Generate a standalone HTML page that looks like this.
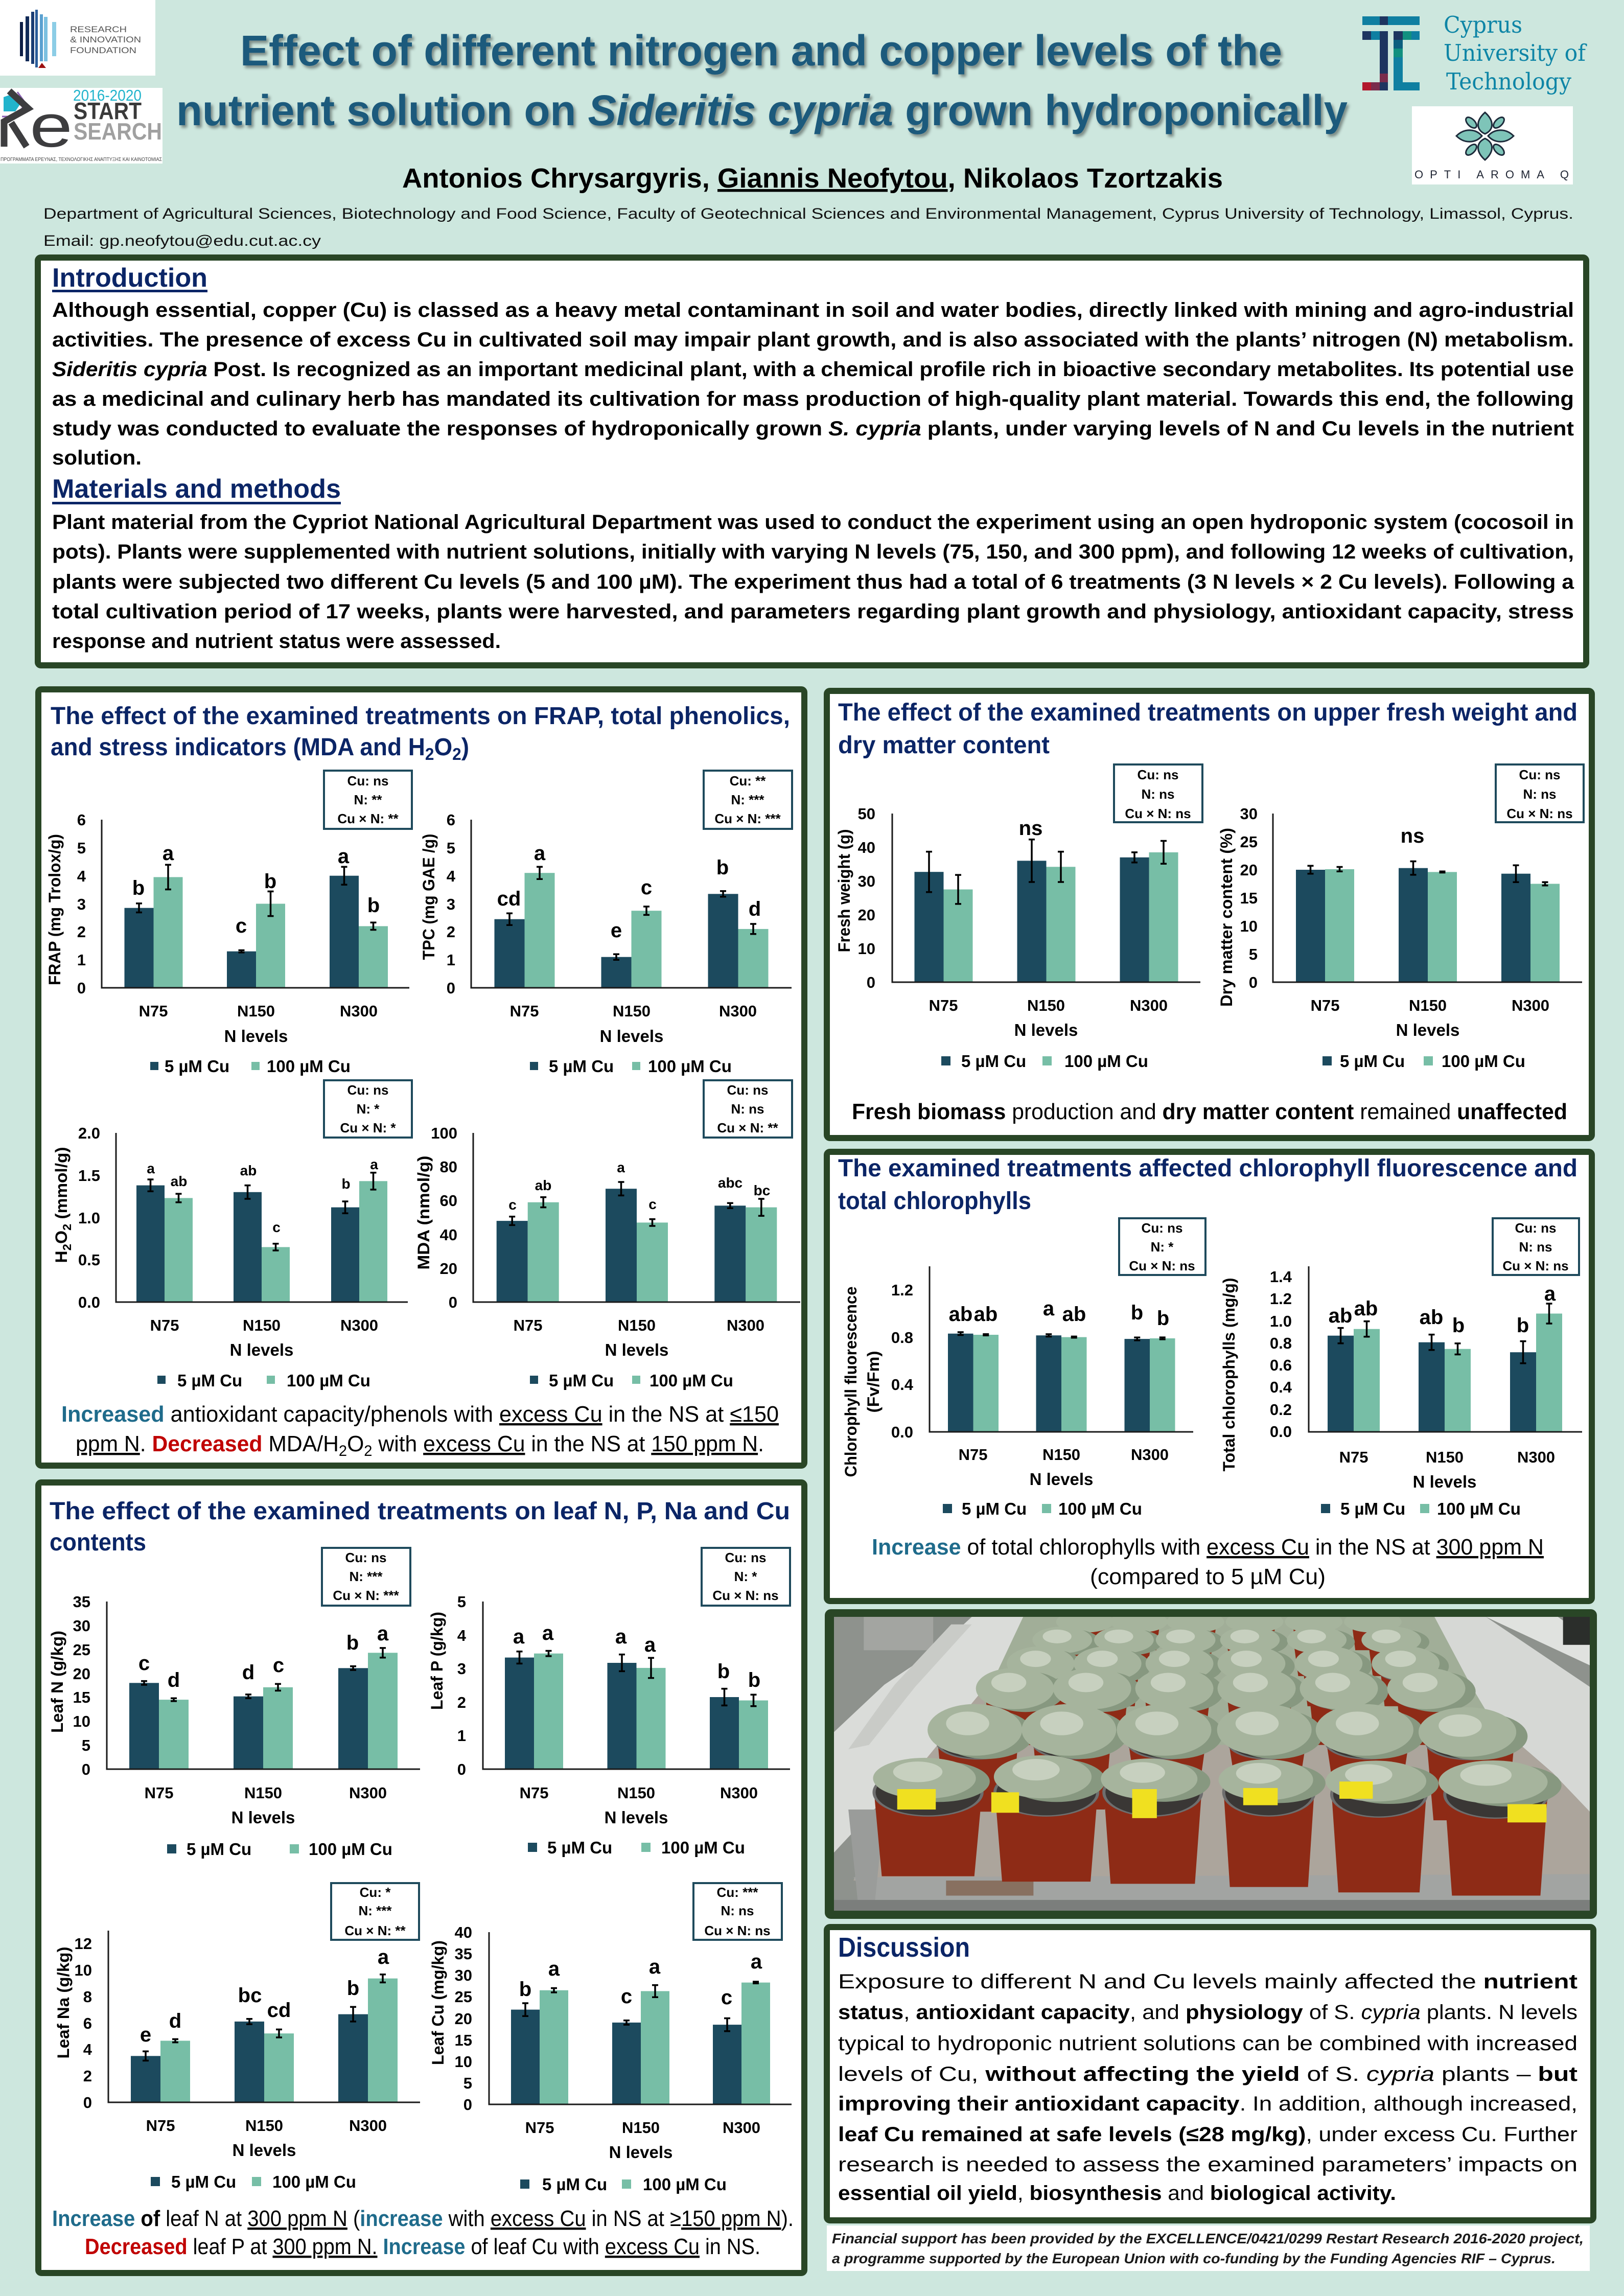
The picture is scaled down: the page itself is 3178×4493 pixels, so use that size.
<!DOCTYPE html>
<html><head><meta charset="utf-8"><title>Poster</title>
<style>html,body{margin:0;padding:0;background:#cde7de}svg{display:block}</style>
</head><body>
<svg xmlns="http://www.w3.org/2000/svg" width="3178" height="4493" viewBox="0 0 3178 4493" style="font-family:'Liberation Sans',Arial,sans-serif">
<defs>
<filter id="sh" x="-5%" y="-30%" width="110%" height="170%"><feDropShadow dx="4" dy="5" stdDeviation="3" flood-color="#000" flood-opacity="0.4"/></filter>
<style>
.b{font-weight:700}
.tk{font-weight:700;font-size:31px;text-anchor:end}
.cl{font-weight:700;font-size:31px;text-anchor:middle}
.nl{font-weight:700;font-size:33px;text-anchor:middle}
.lg{font-weight:700;font-size:33px}
.yt{font-weight:700;font-size:32px;text-anchor:middle}
.L{font-weight:700;font-size:40px;text-anchor:middle}
.S{font-weight:700;font-size:28px;text-anchor:middle}
.sb{font-weight:700;font-size:26px;text-anchor:middle}
.dk{fill:#1c4a5e}
.lt{fill:#77bea6}
.ax{stroke:#1a1a1a;stroke-width:3;fill:none}
.eb{stroke:#000;stroke-width:3.5;fill:none}
.bx{fill:#fff;stroke:#1e4a5c;stroke-width:4}
.pn{fill:#fff;stroke:#294626;stroke-width:12}
.pt{font-weight:700;font-size:48px;fill:#0b2566}
.bt{font-size:44px}
.tc{fill:#1f6b8b;font-weight:700}
.rd{fill:#c00000;font-weight:700}
.u{text-decoration:underline}
.pot{fill:#8e2b16}
.rim{fill:#3a3735;stroke:#6e6e6e;stroke-width:6}
.fo{fill:#a6b49d}
.fd{fill:#879880}
.fh{fill:#c7d0bf}
</style>
</defs>

<rect x="0" y="0" width="3178" height="4493" fill="#cde7de"/>

<!-- RIF logo -->
<rect x="0" y="0" width="304" height="148" fill="#fff"/>
<rect x="39" y="43" width="6" height="67" fill="#0d1e45"/>
<rect x="50" y="32" width="7" height="88" fill="#112a57"/>
<rect x="61" y="23" width="6" height="102" fill="#1a3d75"/>
<rect x="69" y="19" width="5" height="113" fill="#2a5c9a"/>
<rect x="78" y="28" width="6" height="92" fill="#5aa0d0"/>
<rect x="86" y="33" width="7" height="87" fill="#7cc0e0"/>
<rect x="102" y="43" width="8" height="67" fill="#8ccde6"/>
<polygon points="75,133 82,123 90,133" fill="#9c1010"/>
<text x="137" y="63" font-size="17" fill="#555" textLength="111" lengthAdjust="spacingAndGlyphs">RESEARCH</text>
<text x="137" y="83" font-size="17" fill="#555" textLength="139" lengthAdjust="spacingAndGlyphs">&amp; INNOVATION</text>
<text x="137" y="104" font-size="17" fill="#555" textLength="130" lengthAdjust="spacingAndGlyphs">FOUNDATION</text>

<!-- Restart logo -->
<rect x="0" y="172" width="318" height="148" fill="#fff"/>
<polygon points="7,190 30,182 42,200 30,218 7,218" fill="#22b4cc"/>
<path d="M34 180 L50 202 L32 228 L4 228" fill="none" stroke="#8b5fb5" stroke-width="3"/>
<path d="M18 178 L55 212 L8 238 L8 287" fill="none" stroke="#3d3d3f" stroke-width="13" stroke-linejoin="miter"/>
<path d="M22 240 L52 287" fill="none" stroke="#3d3d3f" stroke-width="13"/>
<text x="58" y="287" font-size="118" fill="#3d3d3f" textLength="84" lengthAdjust="spacingAndGlyphs">e</text>
<text x="143" y="197" font-size="31" fill="#22b4cc" textLength="134" lengthAdjust="spacingAndGlyphs">2016-2020</text>
<text x="144" y="233" font-size="46" class="b" fill="#3a3a3a" textLength="133" lengthAdjust="spacingAndGlyphs">START</text>
<text x="144" y="273" font-size="46" class="b" fill="#a0a0a0" textLength="173" lengthAdjust="spacingAndGlyphs">SEARCH</text>
<text x="1" y="315" font-size="10" fill="#444" textLength="316" lengthAdjust="spacingAndGlyphs">ΠΡΟΓΡΑΜΜΑΤΑ ΕΡΕΥΝΑΣ, ΤΕΧΝΟΛΟΓΙΚΗΣ ΑΝΑΠΤΥΞΗΣ ΚΑΙ ΚΑΙΝΟΤΟΜΙΑΣ</text>

<!-- CUT logo -->
<rect x="2666" y="32" width="34" height="17" fill="#0f7fa1"/>
<rect x="2700" y="32" width="16" height="17" fill="#1e3560"/>
<rect x="2716" y="32" width="62" height="17" fill="#0f7fa1"/>
<rect x="2666" y="61" width="17" height="17" fill="#1e3560"/>
<rect x="2683" y="61" width="17" height="17" fill="#0f7fa1"/>
<rect x="2700" y="61" width="16" height="116" fill="#1e3560"/>
<rect x="2700" y="144" width="16" height="17" fill="#7a2c4c"/>
<rect x="2666" y="161" width="17" height="16" fill="#b2172b"/>
<rect x="2683" y="161" width="17" height="16" fill="#7a2c4c"/>
<rect x="2727" y="61" width="18" height="17" fill="#1e3560"/>
<rect x="2745" y="61" width="17" height="17" fill="#11907f"/>
<rect x="2762" y="61" width="16" height="17" fill="#0f7fa1"/>
<rect x="2727" y="78" width="18" height="17" fill="#0c5f7f"/>
<rect x="2727" y="95" width="18" height="17" fill="#11907f"/>
<rect x="2727" y="112" width="18" height="65" fill="#0f7fa1"/>
<rect x="2727" y="161" width="51" height="16" fill="#0f7fa1"/>
<g font-family="'DejaVu Serif','Liberation Serif',serif" font-size="45" fill="#0e85a6">
<text x="2825" y="64" textLength="154" lengthAdjust="spacingAndGlyphs">Cyprus</text>
<text x="2825" y="119" textLength="278" lengthAdjust="spacingAndGlyphs">University of</text>
<text x="2830" y="175" textLength="245" lengthAdjust="spacingAndGlyphs">Technology</text>
</g>

<!-- OPTI AROMA Q -->
<rect x="2763" y="208" width="315" height="153" fill="#fff"/>
<g fill="#7ec4b8" stroke="#1d2a3a" stroke-width="3">
<path d="M2906 220 C2924 236 2924 254 2906 262 C2888 254 2888 236 2906 220Z"/>
<path d="M2906 313 C2924 297 2924 279 2906 271 C2888 279 2888 297 2906 313Z"/>
<path d="M2850 266 C2866 250 2888 252 2900 266 C2888 280 2866 282 2850 266Z"/>
<path d="M2962 266 C2946 250 2924 252 2912 266 C2924 280 2946 282 2962 266Z"/>
<ellipse cx="2879" cy="240" rx="7" ry="13" transform="rotate(-45 2879 240)"/>
<ellipse cx="2933" cy="240" rx="7" ry="13" transform="rotate(45 2933 240)"/>
<ellipse cx="2879" cy="293" rx="7" ry="13" transform="rotate(45 2879 293)"/>
<ellipse cx="2933" cy="293" rx="7" ry="13" transform="rotate(-45 2933 293)"/>
</g>
<text x="2768" y="349" font-size="22" fill="#1f2533" textLength="302" lengthAdjust="spacing">OPTI AROMA Q</text>

<!-- Title -->
<g filter="url(#sh)" fill="#1f5a7c" font-weight="700" font-size="84">
<text x="470" y="128" textLength="2039" lengthAdjust="spacingAndGlyphs">Effect of different nitrogen and copper levels of the</text>
<text x="345" y="245" textLength="2292" lengthAdjust="spacingAndGlyphs">nutrient solution on <tspan font-style="italic">Sideritis cypria</tspan> grown hydroponically</text>
</g>
<text x="787" y="367" class="b" font-size="54" fill="#000" textLength="1606" lengthAdjust="spacingAndGlyphs">Antonios Chrysargyris, <tspan class="u">Giannis Neofytou</tspan>, Nikolaos Tzortzakis</text>
<text x="85" y="428" font-size="30" fill="#111" textLength="2994" lengthAdjust="spacingAndGlyphs">Department of Agricultural Sciences, Biotechnology and Food Science, Faculty of Geotechnical Sciences and Environmental Management, Cyprus University of Technology, Limassol, Cyprus.</text>
<text x="85" y="481" font-size="30" fill="#111" textLength="543" lengthAdjust="spacingAndGlyphs">Email: gp.neofytou@edu.cut.ac.cy</text>

<!-- Intro box -->
<rect class="pn" x="74" y="504" width="3030" height="798" rx="6"/>
<text x="102" y="561" class="b" font-size="52" fill="#0b2566" textLength="304" lengthAdjust="spacingAndGlyphs">Introduction</text>
<rect x="102" y="567" width="304" height="5" fill="#0b2566"/>
<g class="b" font-size="40" fill="#000">
<text x="102" y="620" textLength="2978" lengthAdjust="spacingAndGlyphs">Although essential, copper (Cu) is classed as a heavy metal contaminant in soil and water bodies, directly linked with mining and agro-industrial</text>
<text x="102" y="678" textLength="2978" lengthAdjust="spacingAndGlyphs">activities. The presence of excess Cu in cultivated soil may impair plant growth, and is also associated with the plants’ nitrogen (N) metabolism.</text>
<text x="102" y="736" textLength="2978" lengthAdjust="spacingAndGlyphs"><tspan font-style="italic">Sideritis cypria</tspan> Post. Is recognized as an important medicinal plant, with a chemical profile rich in bioactive secondary metabolites. Its potential use</text>
<text x="102" y="794" textLength="2978" lengthAdjust="spacingAndGlyphs">as a medicinal and culinary herb has mandated its cultivation for mass production of high-quality plant material. Towards this end, the following</text>
<text x="102" y="852" textLength="2978" lengthAdjust="spacingAndGlyphs">study was conducted to evaluate the responses of hydroponically grown <tspan font-style="italic">S. cypria</tspan> plants, under varying levels of N and Cu levels in the nutrient</text>
<text x="102" y="909" textLength="175" lengthAdjust="spacingAndGlyphs">solution.</text>
</g>
<text x="102" y="974" class="b" font-size="52" fill="#0b2566" textLength="565" lengthAdjust="spacingAndGlyphs">Materials and methods</text>
<rect x="102" y="982" width="565" height="5" fill="#0b2566"/>
<g class="b" font-size="40" fill="#000">
<text x="102" y="1035" textLength="2978" lengthAdjust="spacingAndGlyphs">Plant material from the Cypriot National Agricultural Department was used to conduct the experiment using an open hydroponic system (cocosoil in</text>
<text x="102" y="1093" textLength="2978" lengthAdjust="spacingAndGlyphs">pots). Plants were supplemented with nutrient solutions, initially with varying N levels (75, 150, and 300 ppm), and following 12 weeks of cultivation,</text>
<text x="102" y="1152" textLength="2978" lengthAdjust="spacingAndGlyphs">plants were subjected two different Cu levels (5 and 100 µM). The experiment thus had a total of 6 treatments (3 N levels × 2 Cu levels). Following a</text>
<text x="102" y="1210" textLength="2978" lengthAdjust="spacingAndGlyphs">total cultivation period of 17 weeks, plants were harvested, and parameters regarding plant growth and physiology, antioxidant capacity, stress</text>
<text x="102" y="1268" textLength="878" lengthAdjust="spacingAndGlyphs">response and nutrient status were assessed.</text>
</g>

<!-- ================= PANEL FRAP ================= -->
<rect class="pn" x="75" y="1349" width="1499" height="1519" rx="6"/>
<text class="pt" x="99" y="1417" textLength="1447" lengthAdjust="spacingAndGlyphs">The effect of the examined treatments on FRAP, total phenolics,</text>
<text class="pt" x="99" y="1478" textLength="819" lengthAdjust="spacingAndGlyphs">and stress indicators (MDA and H<tspan dy="9" font-size="33">2</tspan><tspan dy="-9">O</tspan><tspan dy="9" font-size="33">2</tspan><tspan dy="-9">)</tspan></text>

<!-- Chart 1 FRAP -->
<rect class="dk" x="243.5" y="1776.7" width="57" height="156.3"/>
<rect class="dk" x="444" y="1861.7" width="57" height="71.3"/>
<rect class="dk" x="645" y="1713.7" width="57" height="219.3"/>
<rect class="lt" x="300.5" y="1716.4" width="57" height="216.6"/>
<rect class="lt" x="501" y="1768.5" width="57" height="164.5"/>
<rect class="lt" x="702" y="1812.4" width="57" height="120.6"/>
<path class="eb" d="M272 1767.9V1785.5M266 1767.9H278M266 1785.5H278M472.5 1859.5V1863.9M466.5 1859.5H478.5M466.5 1863.9H478.5M673.5 1696.2V1731.2M667.5 1696.2H679.5M667.5 1731.2H679.5M329 1692.3V1740.5M323 1692.3H335M323 1740.5H335M529.5 1744.4V1792.6M523.5 1744.4H535.5M523.5 1792.6H535.5M730.5 1805.3V1819.5M724.5 1805.3H736.5M724.5 1819.5H736.5"/>
<path class="ax" d="M199 1604V1933H801"/>
<g class="tk"><text x="168" y="1944">0</text><text x="168" y="1889">1</text><text x="168" y="1834">2</text><text x="168" y="1780">3</text><text x="168" y="1725">4</text><text x="168" y="1670">5</text><text x="168" y="1615">6</text></g>
<g class="L"><text x="271" y="1751">b</text><text x="329" y="1683">a</text><text x="472" y="1825">c</text><text x="529" y="1738">b</text><text x="672" y="1689">a</text><text x="731" y="1785">b</text></g>
<text class="yt" x="107" y="1791" transform="rotate(-90 107 1780)" textLength="296" lengthAdjust="spacingAndGlyphs">FRAP (mg Trolox/g)</text>
<g class="cl"><text x="300" y="1989">N75</text><text x="501" y="1989">N150</text><text x="702" y="1989">N300</text></g>
<text class="nl" x="501" y="2039">N levels</text>
<rect class="dk" x="294" y="2078" width="16" height="16"/><text class="lg" x="322" y="2098">5 µM Cu</text>
<rect class="lt" x="492" y="2078" width="16" height="16"/><text class="lg" x="522" y="2098">100 µM Cu</text>
<rect class="bx" x="634" y="1508" width="172" height="114"/>
<g class="sb"><text x="720" y="1537">Cu: ns</text><text x="720" y="1574">N: **</text><text x="720" y="1611">Cu × N: **</text></g>

<!-- Chart 2 TPC -->
<rect class="dk" x="967.5" y="1798.7" width="59" height="134.3"/>
<rect class="dk" x="1176.5" y="1872.7" width="59" height="60.3"/>
<rect class="dk" x="1385.5" y="1749.3" width="59" height="183.7"/>
<rect class="lt" x="1026.5" y="1708.2" width="59" height="224.8"/>
<rect class="lt" x="1235.5" y="1782.2" width="59" height="150.8"/>
<rect class="lt" x="1444.5" y="1817.9" width="59" height="115.1"/>
<path class="eb" d="M997 1787.2V1810.2M991 1787.2H1003M991 1810.2H1003M1206 1867.2V1878.2M1200 1867.2H1212M1200 1878.2H1212M1415 1743.8V1754.8M1409 1743.8H1421M1409 1754.8H1421M1056 1696.2V1720.2M1050 1696.2H1062M1050 1720.2H1062M1265 1774V1790.4M1259 1774H1271M1259 1790.4H1271M1474 1808V1827.8M1468 1808H1480M1468 1827.8H1480"/>
<path class="ax" d="M922 1604V1933H1549"/>
<g class="tk"><text x="891" y="1944">0</text><text x="891" y="1889">1</text><text x="891" y="1834">2</text><text x="891" y="1780">3</text><text x="891" y="1725">4</text><text x="891" y="1670">5</text><text x="891" y="1615">6</text></g>
<g class="L"><text x="996" y="1772">cd</text><text x="1056" y="1683">a</text><text x="1206" y="1834">e</text><text x="1265" y="1750">c</text><text x="1414" y="1711">b</text><text x="1477" y="1792">d</text></g>
<text class="yt" x="839" y="1766" transform="rotate(-90 839 1755)" textLength="247" lengthAdjust="spacingAndGlyphs">TPC (mg GAE /g)</text>
<g class="cl"><text x="1026" y="1989">N75</text><text x="1236" y="1989">N150</text><text x="1444" y="1989">N300</text></g>
<text class="nl" x="1236" y="2039">N levels</text>
<rect class="dk" x="1037" y="2078" width="16" height="16"/><text class="lg" x="1074" y="2098">5 µM Cu</text>
<rect class="lt" x="1237" y="2078" width="16" height="16"/><text class="lg" x="1268" y="2098">100 µM Cu</text>
<rect class="bx" x="1377" y="1508" width="173" height="114"/>
<g class="sb"><text x="1463" y="1537">Cu: **</text><text x="1463" y="1574">N: ***</text><text x="1463" y="1611">Cu × N: ***</text></g>

<!-- Chart 3 H2O2 -->
<rect class="dk" x="267" y="2319.6" width="55" height="228.4"/>
<rect class="dk" x="457" y="2332.8" width="55" height="215.2"/>
<rect class="dk" x="648" y="2362.6" width="55" height="185.4"/>
<rect class="lt" x="322" y="2344.4" width="55" height="203.6"/>
<rect class="lt" x="512" y="2440.4" width="55" height="107.6"/>
<rect class="lt" x="703" y="2311.3" width="55" height="236.7"/>
<path class="eb" d="M294.5 2308V2331.2M288.5 2308H300.5M288.5 2331.2H300.5M484.5 2319.6V2346M478.5 2319.6H490.5M478.5 2346H490.5M675.5 2351V2374.2M669.5 2351H681.5M669.5 2374.2H681.5M349.5 2336.1V2352.7M343.5 2336.1H355.5M343.5 2352.7H355.5M539.5 2433.8V2447M533.5 2433.8H545.5M533.5 2447H545.5M730.5 2294.7V2327.9M724.5 2294.7H736.5M724.5 2327.9H736.5"/>
<path class="ax" d="M227 2217V2548H798"/>
<g class="tk"><text x="196" y="2559">0.0</text><text x="196" y="2476">0.5</text><text x="196" y="2394">1.0</text><text x="196" y="2311">1.5</text><text x="196" y="2228">2.0</text></g>
<g class="S"><text x="295" y="2296">a</text><text x="350" y="2321">ab</text><text x="486" y="2300">ab</text><text x="541" y="2411">c</text><text x="677" y="2326">b</text><text x="732" y="2288">a</text></g>
<text class="yt" x="120" y="2369" transform="rotate(-90 120 2358)" textLength="227" lengthAdjust="spacingAndGlyphs">H<tspan dy="8" font-size="23">2</tspan><tspan dy="-8">O</tspan><tspan dy="8" font-size="23">2</tspan><tspan dy="-8"> (mmol/g)</tspan></text>
<g class="cl"><text x="322" y="2604">N75</text><text x="512" y="2604">N150</text><text x="703" y="2604">N300</text></g>
<text class="nl" x="512" y="2653">N levels</text>
<rect class="dk" x="308" y="2692" width="16" height="16"/><text class="lg" x="347" y="2713">5 µM Cu</text>
<rect class="lt" x="522" y="2692" width="16" height="16"/><text class="lg" x="561" y="2713">100 µM Cu</text>
<rect class="bx" x="634" y="2114" width="172" height="112"/>
<g class="sb"><text x="720" y="2142">Cu: ns</text><text x="720" y="2179">N: *</text><text x="720" y="2216">Cu × N: *</text></g>

<!-- Chart 4 MDA -->
<rect class="dk" x="971.7" y="2389.1" width="61" height="158.9"/>
<rect class="dk" x="1185" y="2326.2" width="61" height="221.8"/>
<rect class="dk" x="1398.3" y="2359.3" width="61" height="188.7"/>
<rect class="lt" x="1032.7" y="2352.7" width="61" height="195.3"/>
<rect class="lt" x="1246" y="2392.4" width="61" height="155.6"/>
<rect class="lt" x="1459.3" y="2362.6" width="61" height="185.4"/>
<path class="eb" d="M1002.2 2380.8V2397.4M996.2 2380.8H1008.2M996.2 2397.4H1008.2M1215.5 2313V2339.4M1209.5 2313H1221.5M1209.5 2339.4H1221.5M1428.8 2354.3V2364.3M1422.8 2354.3H1434.8M1422.8 2364.3H1434.8M1063.2 2342.8V2362.6M1057.2 2342.8H1069.2M1057.2 2362.6H1069.2M1276.5 2385.8V2399M1270.5 2385.8H1282.5M1270.5 2399H1282.5M1489.8 2346V2379.2M1483.8 2346H1495.8M1483.8 2379.2H1495.8"/>
<path class="ax" d="M926 2217V2548H1566"/>
<g class="tk"><text x="895" y="2559">0</text><text x="895" y="2493">20</text><text x="895" y="2427">40</text><text x="895" y="2360">60</text><text x="895" y="2294">80</text><text x="895" y="2228">100</text></g>
<g class="S"><text x="1003" y="2367">c</text><text x="1063" y="2329">ab</text><text x="1215" y="2294">a</text><text x="1277" y="2366">c</text><text x="1429" y="2324">abc</text><text x="1491" y="2339">bc</text></g>
<text class="yt" x="829" y="2384" transform="rotate(-90 829 2373)" textLength="223" lengthAdjust="spacingAndGlyphs">MDA (nmol/g)</text>
<g class="cl"><text x="1033" y="2604">N75</text><text x="1246" y="2604">N150</text><text x="1459" y="2604">N300</text></g>
<text class="nl" x="1246" y="2653">N levels</text>
<rect class="dk" x="1037" y="2692" width="16" height="16"/><text class="lg" x="1074" y="2713">5 µM Cu</text>
<rect class="lt" x="1237" y="2692" width="16" height="16"/><text class="lg" x="1271" y="2713">100 µM Cu</text>
<rect class="bx" x="1377" y="2114" width="173" height="112"/>
<g class="sb"><text x="1463" y="2142">Cu: ns</text><text x="1463" y="2179">N: ns</text><text x="1463" y="2216">Cu × N: **</text></g>

<text class="bt" x="120" y="2782" textLength="1404" lengthAdjust="spacingAndGlyphs"><tspan class="tc">Increased</tspan> antioxidant capacity/phenols with <tspan class="u">excess Cu</tspan> in the NS at <tspan class="u">≤150</tspan></text>
<text class="bt" x="148" y="2840" textLength="1347" lengthAdjust="spacingAndGlyphs"><tspan class="u">ppm N</tspan>. <tspan class="rd">Decreased</tspan> MDA/H<tspan dy="9" font-size="30">2</tspan><tspan dy="-9">O</tspan><tspan dy="9" font-size="30">2</tspan><tspan dy="-9"> with </tspan><tspan class="u">excess Cu</tspan> in the NS at <tspan class="u">150 ppm N</tspan>.</text>

<!-- ================= PANEL FRESH ================= -->
<rect class="pn" x="1618" y="1352" width="1497" height="875" rx="6"/>
<text class="pt" x="1640" y="1410" textLength="1447" lengthAdjust="spacingAndGlyphs">The effect of the examined treatments on upper fresh weight and</text>
<text class="pt" x="1640" y="1474" textLength="414" lengthAdjust="spacingAndGlyphs">dry matter content</text>

<!-- Chart 5 Fresh -->
<rect class="dk" x="1789.5" y="1706.2" width="57" height="215.8"/>
<rect class="dk" x="1990.5" y="1684.4" width="57" height="237.6"/>
<rect class="dk" x="2191.5" y="1677.8" width="57" height="244.2"/>
<rect class="lt" x="1846.5" y="1740.5" width="57" height="181.5"/>
<rect class="lt" x="2047.5" y="1696.3" width="57" height="225.7"/>
<rect class="lt" x="2248.5" y="1667.9" width="57" height="254.1"/>
<path class="eb" d="M1818 1666.6V1745.8M1812 1666.6H1824M1812 1745.8H1824M2019 1642.8V1726M2013 1642.8H2025M2013 1726H2025M2220 1667.9V1687.7M2214 1667.9H2226M2214 1687.7H2226M1875 1712.1V1768.9M1869 1712.1H1881M1869 1768.9H1881M2076 1666.6V1726M2070 1666.6H2082M2070 1726H2082M2277 1645.5V1690.3M2271 1645.5H2283M2271 1690.3H2283"/>
<path class="ax" d="M1746 1592V1922H2349"/>
<g class="tk"><text x="1713" y="1933">0</text><text x="1713" y="1867">10</text><text x="1713" y="1801">20</text><text x="1713" y="1735">30</text><text x="1713" y="1669">40</text><text x="1713" y="1603">50</text></g>
<text class="L" x="2017" y="1634">ns</text>
<text class="yt" x="1652" y="1754" transform="rotate(-90 1652 1743)" textLength="241" lengthAdjust="spacingAndGlyphs">Fresh weight (g)</text>
<g class="cl"><text x="1846" y="1978">N75</text><text x="2047" y="1978">N150</text><text x="2248" y="1978">N300</text></g>
<text class="nl" x="2047" y="2027">N levels</text>
<rect class="dk" x="1842" y="2067" width="18" height="18"/><text class="lg" x="1881" y="2088">5 µM Cu</text>
<rect class="lt" x="2040" y="2067" width="18" height="18"/><text class="lg" x="2083" y="2088">100 µM Cu</text>
<rect class="bx" x="2180" y="1496" width="173" height="113"/>
<g class="sb"><text x="2266" y="1525">Cu: ns</text><text x="2266" y="1563">N: ns</text><text x="2266" y="1601">Cu × N: ns</text></g>

<!-- Chart 6 Dry -->
<rect class="dk" x="2536" y="1702" width="57" height="220"/>
<rect class="dk" x="2737" y="1698.7" width="57" height="223.3"/>
<rect class="dk" x="2938" y="1709.7" width="57" height="212.3"/>
<rect class="lt" x="2593" y="1700.9" width="57" height="221.1"/>
<rect class="lt" x="2794" y="1706.4" width="57" height="215.6"/>
<rect class="lt" x="2995" y="1729.5" width="57" height="192.5"/>
<path class="eb" d="M2564.5 1694.3V1709.7M2558.5 1694.3H2570.5M2558.5 1709.7H2570.5M2765.5 1685.5V1711.9M2759.5 1685.5H2771.5M2759.5 1711.9H2771.5M2966.5 1693.2V1726.2M2960.5 1693.2H2972.5M2960.5 1726.2H2972.5M2621.5 1696.5V1705.3M2615.5 1696.5H2627.5M2615.5 1705.3H2627.5M2822.5 1705.3V1707.5M2816.5 1705.3H2828.5M2816.5 1707.5H2828.5M3023.5 1726.2V1732.8M3017.5 1726.2H3029.5M3017.5 1732.8H3029.5"/>
<path class="ax" d="M2491 1592V1922H3096"/>
<g class="tk"><text x="2461" y="1933">0</text><text x="2461" y="1878">5</text><text x="2461" y="1823">10</text><text x="2461" y="1768">15</text><text x="2461" y="1713">20</text><text x="2461" y="1658">25</text><text x="2461" y="1603">30</text></g>
<text class="L" x="2764" y="1649">ns</text>
<text class="yt" x="2400" y="1806" transform="rotate(-90 2400 1795)" textLength="350" lengthAdjust="spacingAndGlyphs">Dry matter content (%)</text>
<g class="cl"><text x="2593" y="1978">N75</text><text x="2794" y="1978">N150</text><text x="2995" y="1978">N300</text></g>
<text class="nl" x="2794" y="2027">N levels</text>
<rect class="dk" x="2588" y="2067" width="18" height="18"/><text class="lg" x="2622" y="2088">5 µM Cu</text>
<rect class="lt" x="2786" y="2067" width="18" height="18"/><text class="lg" x="2821" y="2088">100 µM Cu</text>
<rect class="bx" x="2927" y="1496" width="172" height="113"/>
<g class="sb"><text x="3013" y="1525">Cu: ns</text><text x="3013" y="1563">N: ns</text><text x="3013" y="1601">Cu × N: ns</text></g>

<text class="bt" x="1667" y="2190" textLength="1400" lengthAdjust="spacingAndGlyphs"><tspan class="b">Fresh biomass</tspan> production and <tspan class="b">dry matter content</tspan> remained <tspan class="b">unaffected</tspan></text>

<!-- ================= PANEL CHL ================= -->
<rect class="pn" x="1618" y="2254" width="1497" height="879" rx="6"/>
<text class="pt" x="1640" y="2302" textLength="1447" lengthAdjust="spacingAndGlyphs">The examined treatments affected chlorophyll fluorescence and</text>
<text class="pt" x="1640" y="2366" textLength="378" lengthAdjust="spacingAndGlyphs">total chlorophylls</text>

<!-- Chart 7 ChlF -->
<rect class="dk" x="1855" y="2609.7" width="49.5" height="192.3"/>
<rect class="dk" x="2027.5" y="2613.2" width="49.5" height="188.8"/>
<rect class="dk" x="2200.5" y="2620.1" width="49.5" height="181.9"/>
<rect class="lt" x="1904.5" y="2612" width="49.5" height="190"/>
<rect class="lt" x="2077" y="2616.6" width="49.5" height="185.4"/>
<rect class="lt" x="2250" y="2619" width="49.5" height="183"/>
<path class="eb" d="M1879.75 2606.9V2612.5M1873.75 2606.9H1885.75M1873.75 2612.5H1885.75M2052.25 2610.9V2615.5M2046.25 2610.9H2058.25M2046.25 2615.5H2058.25M2225.25 2617.3V2622.9M2219.25 2617.3H2231.25M2219.25 2622.9H2231.25M1929.25 2610.8V2613.2M1923.25 2610.8H1935.25M1923.25 2613.2H1935.25M2101.75 2615.4V2617.8M2095.75 2615.4H2107.75M2095.75 2617.8H2107.75M2274.75 2617.1V2620.9M2268.75 2617.1H2280.75M2268.75 2620.9H2280.75"/>
<path class="ax" d="M1819 2478V2802H2335"/>
<g class="tk"><text x="1787" y="2813">0.0</text><text x="1787" y="2720">0.4</text><text x="1787" y="2628">0.8</text><text x="1787" y="2535">1.2</text></g>
<g class="L" font-size="38"><text x="1880" y="2585">ab</text><text x="1929" y="2585">ab</text><text x="2052" y="2574">a</text><text x="2102" y="2585">ab</text><text x="2225" y="2582">b</text><text x="2276" y="2593">b</text></g>
<text class="yt" x="1665" y="2715" transform="rotate(-90 1665 2704)" textLength="373" lengthAdjust="spacingAndGlyphs">Chlorophyll fluorescence</text>
<text class="yt" x="1709" y="2715" transform="rotate(-90 1709 2704)" textLength="121" lengthAdjust="spacingAndGlyphs">(Fv/Fm)</text>
<g class="cl"><text x="1904" y="2857">N75</text><text x="2077" y="2857">N150</text><text x="2250" y="2857">N300</text></g>
<text class="nl" x="2077" y="2906">N levels</text>
<rect class="dk" x="1845" y="2943" width="18" height="18"/><text class="lg" x="1882" y="2964">5 µM Cu</text>
<rect class="lt" x="2039" y="2943" width="18" height="18"/><text class="lg" x="2071" y="2964">100 µM Cu</text>
<rect class="bx" x="2190" y="2384" width="169" height="111"/>
<g class="sb"><text x="2274" y="2412">Cu: ns</text><text x="2274" y="2449">N: *</text><text x="2274" y="2486">Cu × N: ns</text></g>

<!-- Chart 8 TChl -->
<rect class="dk" x="2598" y="2613.7" width="51" height="188.3"/>
<rect class="dk" x="2776" y="2626.7" width="51" height="175.3"/>
<rect class="dk" x="2955" y="2646.2" width="51" height="155.8"/>
<rect class="lt" x="2649" y="2600.7" width="51" height="201.3"/>
<rect class="lt" x="2827" y="2639.7" width="51" height="162.3"/>
<rect class="lt" x="3006" y="2570.5" width="51" height="231.5"/>
<path class="eb" d="M2623.5 2598.6V2628.8M2617.5 2598.6H2629.5M2617.5 2628.8H2629.5M2801.5 2611.6V2641.8M2795.5 2611.6H2807.5M2795.5 2641.8H2807.5M2980.5 2624.6V2667.8M2974.5 2624.6H2986.5M2974.5 2667.8H2986.5M2674.5 2585.6V2615.8M2668.5 2585.6H2680.5M2668.5 2615.8H2680.5M2852.5 2628.9V2650.5M2846.5 2628.9H2858.5M2846.5 2650.5H2858.5M3031.5 2551V2590M3025.5 2551H3037.5M3025.5 2590H3037.5"/>
<path class="ax" d="M2561 2478V2802H3096"/>
<g class="tk" font-size="29"><text x="2528" y="2812">0.0</text><text x="2528" y="2769">0.2</text><text x="2528" y="2725">0.4</text><text x="2528" y="2682">0.6</text><text x="2528" y="2639">0.8</text><text x="2528" y="2596">1.0</text><text x="2528" y="2552">1.2</text><text x="2528" y="2509">1.4</text></g>
<g class="L" font-size="38"><text x="2623" y="2588">ab</text><text x="2673" y="2574">ab</text><text x="2801" y="2591">ab</text><text x="2854" y="2607">b</text><text x="2980" y="2607">b</text><text x="3033" y="2545">a</text></g>
<text class="yt" x="2405" y="2701" transform="rotate(-90 2405 2690)" textLength="379" lengthAdjust="spacingAndGlyphs">Total chlorophylls (mg/g)</text>
<g class="cl"><text x="2649" y="2862">N75</text><text x="2827" y="2862">N150</text><text x="3006" y="2862">N300</text></g>
<text class="nl" x="2827" y="2911">N levels</text>
<rect class="dk" x="2585" y="2943" width="18" height="18"/><text class="lg" x="2623" y="2964">5 µM Cu</text>
<rect class="lt" x="2779" y="2943" width="18" height="18"/><text class="lg" x="2812" y="2964">100 µM Cu</text>
<rect class="bx" x="2921" y="2384" width="169" height="111"/>
<g class="sb"><text x="3005" y="2412">Cu: ns</text><text x="3005" y="2449">N: ns</text><text x="3005" y="2486">Cu × N: ns</text></g>

<text class="bt" x="1706" y="3042" textLength="1315" lengthAdjust="spacingAndGlyphs"><tspan class="tc">Increase</tspan> of total chlorophylls with <tspan class="u">excess Cu</tspan> in the NS at <tspan class="u">300 ppm N</tspan></text>
<text class="bt" x="2133" y="3100" textLength="461" lengthAdjust="spacingAndGlyphs">(compared to 5 µM  Cu)</text>

<!-- ================= PHOTO ================= -->
<rect x="1614" y="3149" width="1511" height="606" rx="12" fill="#294626"/>
<svg x="1632" y="3164" width="1479" height="575" viewBox="32 105 1470 1365" preserveAspectRatio="none">
<rect x="32" y="105" width="1470" height="1365" fill="#8e928d"/>
<rect x="90" y="105" width="135" height="155" fill="#a3a5a1"/>
<polygon points="230,260 300,105 440,105 330,420 220,760 110,1000 32,1200 32,640 130,420" fill="#dadcd9"/>
<polygon points="150,420 260,140 300,140 190,430 100,700 60,720" fill="#c9cbc7"/>
<polygon points="1180,105 1300,105 1502,430 1502,1010 1430,830 1290,540" fill="#d6d8d5"/>
<polygon points="1300,105 1440,105 1502,210 1502,330" fill="#e0e2df"/>
<rect x="1450" y="105" width="52" height="130" fill="#2b2e2b"/>
<polygon points="130,1000 330,420 440,105 1180,105 1290,540 1430,830 1502,1010 1502,1330 70,1330" fill="#aca59c"/>
<!-- dense back foliage -->
<polygon points="400,105 1200,105 1270,420 1320,620 1250,700 300,700 330,460" fill="#a1ae98"/>
<polygon points="70,1315 1502,1300 1502,1440 95,1420" fill="#a2a4a2"/>
<polygon points="60,1000 130,1000 112,1420 78,1420" fill="#9a9c9a"/>
<rect x="250" y="1330" width="170" height="70" fill="#7d5a44" opacity="0.7"/>
<rect x="32" y="1420" width="1470" height="50" fill="#7b7e7c"/>
<!-- row A -->
<g>
<polygon class="pot" points="480,150 560,150 554,260 486,260"/><ellipse class="fo" cx="520" cy="128" rx="56" ry="50"/>
<polygon class="pot" points="585,150 665,150 659,260 591,260"/><ellipse class="fo" cx="625" cy="128" rx="56" ry="50"/>
<polygon class="pot" points="695,150 775,150 769,260 701,260"/><ellipse class="fo" cx="735" cy="128" rx="56" ry="50"/>
<polygon class="pot" points="810,150 890,150 884,260 816,260"/><ellipse class="fo" cx="850" cy="128" rx="56" ry="50"/>
<polygon class="pot" points="925,150 1005,150 999,260 931,260"/><ellipse class="fo" cx="965" cy="128" rx="56" ry="50"/>
<polygon class="pot" points="1040,150 1120,150 1114,260 1046,260"/><ellipse class="fo" cx="1080" cy="128" rx="56" ry="50"/>
</g>
<!-- row B -->
<g>
<polygon class="pot" points="432,240 528,240 520,380 440,380"/><ellipse class="fd" cx="492" cy="222" rx="58" ry="60"/><ellipse class="fo" cx="476" cy="212" rx="58" ry="62"/><ellipse class="fh" cx="466" cy="196" rx="28" ry="32"/>
<polygon class="pot" points="552,240 648,240 640,380 560,380"/><ellipse class="fd" cx="612" cy="222" rx="58" ry="60"/><ellipse class="fo" cx="596" cy="212" rx="58" ry="62"/><ellipse class="fh" cx="586" cy="196" rx="28" ry="32"/>
<polygon class="pot" points="672,240 768,240 760,380 680,380"/><ellipse class="fd" cx="732" cy="222" rx="58" ry="60"/><ellipse class="fo" cx="716" cy="212" rx="58" ry="62"/><ellipse class="fh" cx="706" cy="196" rx="28" ry="32"/>
<polygon class="pot" points="797,240 893,240 885,380 805,380"/><ellipse class="fd" cx="857" cy="222" rx="58" ry="60"/><ellipse class="fo" cx="841" cy="212" rx="58" ry="62"/><ellipse class="fh" cx="831" cy="196" rx="28" ry="32"/>
<polygon class="pot" points="927,240 1023,240 1015,380 935,380"/><ellipse class="fd" cx="987" cy="222" rx="58" ry="60"/><ellipse class="fo" cx="971" cy="212" rx="58" ry="62"/><ellipse class="fh" cx="961" cy="196" rx="28" ry="32"/>
<polygon class="pot" points="1072,240 1168,240 1160,380 1080,380"/><ellipse class="fd" cx="1132" cy="222" rx="58" ry="60"/><ellipse class="fo" cx="1116" cy="212" rx="58" ry="62"/><ellipse class="fh" cx="1106" cy="196" rx="28" ry="32"/>
</g>
<!-- row C -->
<g>
<polygon class="pot" points="385,360 495,360 487,520 393,520"/><ellipse class="rim" cx="440" cy="360" rx="55" ry="45"/><ellipse class="fd" cx="452" cy="335" rx="66" ry="78"/><ellipse class="fo" cx="434" cy="322" rx="66" ry="80"/><ellipse class="fh" cx="424" cy="300" rx="30" ry="38"/>
<polygon class="pot" points="515,360 625,360 617,520 523,520"/><ellipse class="rim" cx="570" cy="360" rx="55" ry="45"/><ellipse class="fd" cx="582" cy="335" rx="66" ry="78"/><ellipse class="fo" cx="564" cy="322" rx="66" ry="80"/><ellipse class="fh" cx="554" cy="300" rx="30" ry="38"/>
<polygon class="pot" points="655,360 765,360 757,520 663,520"/><ellipse class="rim" cx="710" cy="360" rx="55" ry="45"/><ellipse class="fd" cx="722" cy="335" rx="66" ry="78"/><ellipse class="fo" cx="704" cy="322" rx="66" ry="80"/><ellipse class="fh" cx="694" cy="300" rx="30" ry="38"/>
<polygon class="pot" points="795,360 905,360 897,520 803,520"/><ellipse class="rim" cx="850" cy="360" rx="55" ry="45"/><ellipse class="fd" cx="862" cy="335" rx="66" ry="78"/><ellipse class="fo" cx="844" cy="322" rx="66" ry="80"/><ellipse class="fh" cx="834" cy="300" rx="30" ry="38"/>
<polygon class="pot" points="945,360 1055,360 1047,520 953,520"/><ellipse class="rim" cx="1000" cy="360" rx="55" ry="45"/><ellipse class="fd" cx="1012" cy="335" rx="66" ry="78"/><ellipse class="fo" cx="994" cy="322" rx="66" ry="80"/><ellipse class="fh" cx="984" cy="300" rx="30" ry="38"/>
<polygon class="pot" points="1095,360 1205,360 1197,520 1103,520"/><ellipse class="rim" cx="1150" cy="360" rx="55" ry="45"/><ellipse class="fd" cx="1162" cy="335" rx="66" ry="78"/><ellipse class="fo" cx="1144" cy="322" rx="66" ry="80"/><ellipse class="fh" cx="1134" cy="300" rx="30" ry="38"/>
</g>
<!-- row D -->
<g>
<polygon class="pot" points="327,480 453,480 443,700 337,700"/><ellipse class="rim" cx="390" cy="480" rx="62" ry="55"/><ellipse class="fd" cx="404" cy="452" rx="76" ry="95"/><ellipse class="fo" cx="384" cy="438" rx="76" ry="96"/><ellipse class="fh" cx="372" cy="410" rx="34" ry="45"/>
<polygon class="pot" points="477,480 603,480 593,700 487,700"/><ellipse class="rim" cx="540" cy="480" rx="62" ry="55"/><ellipse class="fd" cx="554" cy="452" rx="76" ry="95"/><ellipse class="fo" cx="534" cy="438" rx="76" ry="96"/><ellipse class="fh" cx="522" cy="410" rx="34" ry="45"/>
<polygon class="pot" points="637,480 763,480 753,700 647,700"/><ellipse class="rim" cx="700" cy="480" rx="62" ry="55"/><ellipse class="fd" cx="714" cy="452" rx="76" ry="95"/><ellipse class="fo" cx="694" cy="438" rx="76" ry="96"/><ellipse class="fh" cx="682" cy="410" rx="34" ry="45"/>
<polygon class="pot" points="797,480 923,480 913,700 807,700"/><ellipse class="rim" cx="860" cy="480" rx="62" ry="55"/><ellipse class="fd" cx="874" cy="452" rx="76" ry="95"/><ellipse class="fo" cx="854" cy="438" rx="76" ry="96"/><ellipse class="fh" cx="842" cy="410" rx="34" ry="45"/>
<polygon class="pot" points="957,480 1083,480 1073,700 967,700"/><ellipse class="rim" cx="1020" cy="480" rx="62" ry="55"/><ellipse class="fd" cx="1034" cy="452" rx="76" ry="95"/><ellipse class="fo" cx="1014" cy="438" rx="76" ry="96"/><ellipse class="fh" cx="1002" cy="410" rx="34" ry="45"/>
<polygon class="pot" points="1127,480 1253,480 1243,700 1137,700"/><ellipse class="rim" cx="1190" cy="480" rx="62" ry="55"/><ellipse class="fd" cx="1204" cy="452" rx="76" ry="95"/><ellipse class="fo" cx="1184" cy="438" rx="76" ry="96"/><ellipse class="fh" cx="1172" cy="410" rx="34" ry="45"/>
</g>
<!-- row E -->
<g>
<polygon class="pot" points="234,690 390,690 378,1010 246,1010"/><ellipse class="rim" cx="312" cy="690" rx="78" ry="75"/><ellipse class="fd" cx="328" cy="650" rx="92" ry="115"/><ellipse class="fo" cx="306" cy="630" rx="92" ry="120"/><ellipse class="fh" cx="292" cy="600" rx="42" ry="55"/>
<polygon class="pot" points="420,690 570,690 559,1000 431,1000"/><ellipse class="rim" cx="495" cy="690" rx="75" ry="75"/><ellipse class="fd" cx="511" cy="650" rx="92" ry="115"/><ellipse class="fo" cx="489" cy="630" rx="92" ry="120"/><ellipse class="fh" cx="475" cy="600" rx="42" ry="55"/>
<polygon class="pot" points="605,690 755,690 744,880 616,880"/><ellipse class="rim" cx="680" cy="690" rx="75" ry="75"/><ellipse class="fd" cx="696" cy="650" rx="92" ry="115"/><ellipse class="fo" cx="674" cy="630" rx="92" ry="120"/><ellipse class="fh" cx="660" cy="600" rx="42" ry="55"/>
<polygon class="pot" points="800,690 950,690 939,860 811,860"/><ellipse class="rim" cx="875" cy="690" rx="75" ry="75"/><ellipse class="fd" cx="891" cy="650" rx="92" ry="115"/><ellipse class="fo" cx="869" cy="630" rx="92" ry="120"/><ellipse class="fh" cx="855" cy="600" rx="42" ry="55"/>
<polygon class="pot" points="990,690 1150,690 1138,880 1002,880"/><ellipse class="rim" cx="1070" cy="690" rx="80" ry="75"/><ellipse class="fd" cx="1086" cy="650" rx="95" ry="115"/><ellipse class="fo" cx="1064" cy="630" rx="95" ry="120"/><ellipse class="fh" cx="1050" cy="600" rx="42" ry="55"/>
<polygon class="pot" points="1185,690 1355,690 1342,1050 1198,1050"/><ellipse class="rim" cx="1270" cy="690" rx="85" ry="78"/><ellipse class="fd" cx="1286" cy="660" rx="95" ry="110"/><ellipse class="fo" cx="1264" cy="640" rx="95" ry="115"/><ellipse class="fh" cx="1250" cy="610" rx="42" ry="52"/>
</g>
<!-- row F front -->
<g>
<polygon class="pot" points="110,920 320,920 305,1310 125,1310"/><ellipse class="rim" cx="215" cy="920" rx="105" ry="110"/><ellipse class="fd" cx="235" cy="870" rx="100" ry="95"/><ellipse class="fo" cx="208" cy="855" rx="100" ry="95"/><ellipse class="fh" cx="195" cy="825" rx="48" ry="48"/>
<polygon class="pot" points="345,920 545,920 531,1335 359,1335"/><ellipse class="rim" cx="445" cy="920" rx="100" ry="110"/><ellipse class="fd" cx="465" cy="865" rx="95" ry="100"/><ellipse class="fo" cx="438" cy="848" rx="95" ry="100"/><ellipse class="fh" cx="425" cy="815" rx="46" ry="50"/>
<polygon class="pot" points="557,920 747,920 734,1345 570,1345"/><ellipse class="rim" cx="652" cy="920" rx="95" ry="110"/><ellipse class="fd" cx="672" cy="872" rx="92" ry="92"/><ellipse class="fo" cx="645" cy="858" rx="94" ry="95"/><ellipse class="fh" cx="632" cy="828" rx="44" ry="48"/>
<polygon class="pot" points="790,920 966,920 954,1360 802,1360"/><ellipse class="rim" cx="878" cy="920" rx="88" ry="110"/><ellipse class="fd" cx="898" cy="878" rx="90" ry="92"/><ellipse class="fo" cx="872" cy="862" rx="92" ry="95"/><ellipse class="fh" cx="858" cy="832" rx="44" ry="48"/>
<polygon class="pot" points="1000,930 1184,930 1171,1385 1013,1385"/><ellipse class="rim" cx="1092" cy="930" rx="92" ry="105"/><ellipse class="fd" cx="1112" cy="882" rx="96" ry="92"/><ellipse class="fo" cx="1086" cy="868" rx="98" ry="95"/><ellipse class="fh" cx="1072" cy="838" rx="46" ry="48"/>
<polygon class="pot" points="1220,930 1420,930 1406,1400 1234,1400"/><ellipse class="rim" cx="1320" cy="930" rx="100" ry="110"/><ellipse class="fd" cx="1342" cy="888" rx="105" ry="98"/><ellipse class="fo" cx="1314" cy="872" rx="106" ry="100"/><ellipse class="fh" cx="1300" cy="840" rx="50" ry="50"/>
</g>
<g fill="#f0e020">
<rect x="155" y="905" width="75" height="95"/><rect x="338" y="920" width="54" height="95"/><rect x="612" y="905" width="48" height="135"/><rect x="828" y="900" width="67" height="80"/><rect x="1015" y="870" width="65" height="80"/><rect x="1342" y="975" width="76" height="85"/>
</g>
</svg>

<!-- ================= LEAF PANEL ================= -->
<rect class="pn" x="75" y="2901" width="1499" height="1547" rx="6"/>
<text class="pt" x="97" y="2973" textLength="1449" lengthAdjust="spacingAndGlyphs">The effect of the examined treatments on leaf N, P, Na and Cu</text>
<text class="pt" x="97" y="3034" textLength="189" lengthAdjust="spacingAndGlyphs">contents</text>

<!-- Chart 9 Leaf N -->
<rect class="dk" x="253" y="3293.3" width="58" height="168.7"/>
<rect class="dk" x="457" y="3319.6" width="58" height="142.4"/>
<rect class="dk" x="662" y="3264.3" width="58" height="197.7"/>
<rect class="lt" x="311" y="3326.1" width="58" height="135.9"/>
<rect class="lt" x="515" y="3301.8" width="58" height="160.2"/>
<rect class="lt" x="720" y="3234.3" width="58" height="227.7"/>
<path class="eb" d="M282 3289.6V3297M276 3289.6H288M276 3297H288M486 3315.9V3323.3M480 3315.9H492M480 3323.3H492M691 3260.6V3268M685 3260.6H697M685 3268H697M340 3323.3V3328.9M334 3323.3H346M334 3328.9H346M544 3295.2V3308.4M538 3295.2H550M538 3308.4H550M749 3224.9V3243.7M743 3224.9H755M743 3243.7H755"/>
<path class="ax" d="M209 3134V3462H822"/>
<g class="tk"><text x="177" y="3473">0</text><text x="177" y="3426">5</text><text x="177" y="3379">10</text><text x="177" y="3332">15</text><text x="177" y="3286">20</text><text x="177" y="3239">25</text><text x="177" y="3192">30</text><text x="177" y="3145">35</text></g>
<g class="L"><text x="282" y="3268">c</text><text x="340" y="3301">d</text><text x="486" y="3286">d</text><text x="545" y="3272">c</text><text x="690" y="3228">b</text><text x="749" y="3210">a</text></g>
<text class="yt" x="112" y="3302" transform="rotate(-90 112 3291)" textLength="200" lengthAdjust="spacingAndGlyphs">Leaf N (g/kg)</text>
<g class="cl"><text x="311" y="3519">N75</text><text x="515" y="3519">N150</text><text x="720" y="3519">N300</text></g>
<text class="nl" x="515" y="3568">N levels</text>
<rect class="dk" x="327" y="3609" width="18" height="18"/><text class="lg" x="365" y="3630">5 µM Cu</text>
<rect class="lt" x="567" y="3609" width="18" height="18"/><text class="lg" x="604" y="3630">100 µM Cu</text>
<rect class="bx" x="630" y="3029" width="173" height="113"/>
<g class="sb"><text x="716" y="3057">Cu: ns</text><text x="716" y="3094">N: ***</text><text x="716" y="3131">Cu × N: ***</text></g>

<!-- Chart 10 Leaf P -->
<rect class="dk" x="988" y="3243.6" width="57" height="218.4"/>
<rect class="dk" x="1188.5" y="3254" width="57" height="208"/>
<rect class="dk" x="1389" y="3321" width="57" height="141"/>
<rect class="lt" x="1045" y="3235.7" width="57" height="226.3"/>
<rect class="lt" x="1245.5" y="3263.9" width="57" height="198.1"/>
<rect class="lt" x="1446" y="3327.5" width="57" height="134.5"/>
<path class="eb" d="M1016.5 3231.8V3255.4M1010.5 3231.8H1022.5M1010.5 3255.4H1022.5M1217 3237.6V3270.4M1211 3237.6H1223M1211 3270.4H1223M1417.5 3304.6V3337.4M1411.5 3304.6H1423.5M1411.5 3337.4H1423.5M1073.5 3230.5V3240.9M1067.5 3230.5H1079.5M1067.5 3240.9H1079.5M1274 3244.2V3283.6M1268 3244.2H1280M1268 3283.6H1280M1474.5 3316.3V3338.7M1468.5 3316.3H1480.5M1468.5 3338.7H1480.5"/>
<path class="ax" d="M945 3134V3462H1546"/>
<g class="tk"><text x="912" y="3473">0</text><text x="912" y="3407">1</text><text x="912" y="3342">2</text><text x="912" y="3276">3</text><text x="912" y="3211">4</text><text x="912" y="3145">5</text></g>
<g class="L"><text x="1015" y="3216">a</text><text x="1072" y="3209">a</text><text x="1215" y="3216">a</text><text x="1272" y="3232">a</text><text x="1416" y="3284">b</text><text x="1476" y="3301">b</text></g>
<text class="yt" x="855" y="3261" transform="rotate(-90 855 3250)" textLength="192" lengthAdjust="spacingAndGlyphs">Leaf P (g/kg)</text>
<g class="cl"><text x="1045" y="3519">N75</text><text x="1245" y="3519">N150</text><text x="1446" y="3519">N300</text></g>
<text class="nl" x="1245" y="3568">N levels</text>
<rect class="dk" x="1033" y="3606" width="18" height="18"/><text class="lg" x="1071" y="3627">5 µM Cu</text>
<rect class="lt" x="1255" y="3606" width="18" height="18"/><text class="lg" x="1294" y="3627">100 µM Cu</text>
<rect class="bx" x="1373" y="3029" width="173" height="113"/>
<g class="sb"><text x="1459" y="3057">Cu: ns</text><text x="1459" y="3094">N: *</text><text x="1459" y="3131">Cu × N: ns</text></g>

<!-- Chart 11 Leaf Na -->
<rect class="dk" x="256" y="4023.3" width="58" height="90.7"/>
<rect class="dk" x="459" y="3955.9" width="58" height="158.1"/>
<rect class="dk" x="662" y="3941.6" width="58" height="172.4"/>
<rect class="lt" x="314" y="3993.5" width="58" height="120.5"/>
<rect class="lt" x="517" y="3979.2" width="58" height="134.8"/>
<rect class="lt" x="720" y="3871.6" width="58" height="242.4"/>
<path class="eb" d="M285 4014.2V4032.4M279 4014.2H291M279 4032.4H291M488 3950.7V3961.1M482 3950.7H494M482 3961.1H494M691 3927.3V3955.9M685 3927.3H697M685 3955.9H697M343 3990.4V3996.6M337 3990.4H349M337 3996.6H349M546 3971.4V3987M540 3971.4H552M540 3987H552M749 3863.8V3879.4M743 3863.8H755M743 3879.4H755"/>
<path class="ax" d="M212 3778V4114H822"/>
<g class="tk"><text x="180" y="4125">0</text><text x="180" y="4073">2</text><text x="180" y="4021">4</text><text x="180" y="3970">6</text><text x="180" y="3918">8</text><text x="180" y="3866">10</text><text x="180" y="3814">12</text></g>
<g class="L"><text x="285" y="3995">e</text><text x="343" y="3968">d</text><text x="489" y="3918">bc</text><text x="546" y="3947">cd</text><text x="691" y="3904">b</text><text x="750" y="3843">a</text></g>
<text class="yt" x="124" y="3930" transform="rotate(-90 124 3919)" textLength="219" lengthAdjust="spacingAndGlyphs">Leaf Na (g/kg)</text>
<g class="cl"><text x="314" y="4170">N75</text><text x="517" y="4170">N150</text><text x="720" y="4170">N300</text></g>
<text class="nl" x="517" y="4219">N levels</text>
<rect class="dk" x="295" y="4260" width="18" height="18"/><text class="lg" x="335" y="4281">5 µM Cu</text>
<rect class="lt" x="493" y="4260" width="18" height="18"/><text class="lg" x="533" y="4281">100 µM Cu</text>
<rect class="bx" x="648" y="3685" width="172" height="111"/>
<g class="sb"><text x="734" y="3712">Cu: *</text><text x="734" y="3748">N: ***</text><text x="734" y="3787">Cu × N: **</text></g>

<!-- Chart 12 Leaf Cu -->
<rect class="dk" x="1000" y="3932.6" width="56" height="185.4"/>
<rect class="dk" x="1198" y="3957.9" width="56" height="160.1"/>
<rect class="dk" x="1395" y="3962.1" width="56" height="155.9"/>
<rect class="lt" x="1056" y="3894.7" width="56" height="223.3"/>
<rect class="lt" x="1254" y="3896.4" width="56" height="221.6"/>
<rect class="lt" x="1451" y="3879.6" width="56" height="238.4"/>
<path class="eb" d="M1028 3920V3945.2M1022 3920H1034M1022 3945.2H1034M1226 3953.7V3962.1M1220 3953.7H1232M1220 3962.1H1232M1423 3949.5V3974.7M1417 3949.5H1429M1417 3974.7H1429M1084 3890.5V3898.9M1078 3890.5H1090M1078 3898.9H1090M1282 3884.6V3908.2M1276 3884.6H1288M1276 3908.2H1288M1479 3877.9V3881.3M1473 3877.9H1485M1473 3881.3H1485"/>
<path class="ax" d="M957 3781V4118H1549"/>
<g class="tk"><text x="924" y="4129">0</text><text x="924" y="4087">5</text><text x="924" y="4045">10</text><text x="924" y="4003">15</text><text x="924" y="3961">20</text><text x="924" y="3918">25</text><text x="924" y="3876">30</text><text x="924" y="3834">35</text><text x="924" y="3792">40</text></g>
<g class="L"><text x="1028" y="3906">b</text><text x="1084" y="3866">a</text><text x="1226" y="3920">c</text><text x="1281" y="3862">a</text><text x="1422" y="3922">c</text><text x="1480" y="3852">a</text></g>
<text class="yt" x="857" y="3930" transform="rotate(-90 857 3919)" textLength="244" lengthAdjust="spacingAndGlyphs">Leaf Cu (mg/kg)</text>
<g class="cl"><text x="1056" y="4174">N75</text><text x="1254" y="4174">N150</text><text x="1451" y="4174">N300</text></g>
<text class="nl" x="1254" y="4223">N levels</text>
<rect class="dk" x="1018" y="4265" width="18" height="18"/><text class="lg" x="1061" y="4286">5 µM Cu</text>
<rect class="lt" x="1217" y="4265" width="18" height="18"/><text class="lg" x="1258" y="4286">100 µM Cu</text>
<rect class="bx" x="1357" y="3685" width="173" height="111"/>
<g class="sb"><text x="1443" y="3712">Cu: ***</text><text x="1443" y="3748">N: ns</text><text x="1443" y="3787">Cu × N: ns</text></g>

<text class="bt" x="102" y="4356" textLength="1451" lengthAdjust="spacingAndGlyphs"><tspan class="tc">Increase</tspan> <tspan class="b">of</tspan> leaf N at <tspan class="u">300 ppm N</tspan> (<tspan class="tc">increase</tspan> with <tspan class="u">excess Cu</tspan> in NS at ≥<tspan class="u">150 ppm N</tspan>).</text>
<text class="bt" x="166" y="4411" textLength="1322" lengthAdjust="spacingAndGlyphs"><tspan class="rd">Decreased</tspan> leaf P at <tspan class="u">300 ppm N.</tspan> <tspan class="tc">Increase</tspan> of leaf Cu with <tspan class="u">excess Cu</tspan> in NS.</text>

<!-- ================= DISCUSSION ================= -->
<rect class="pn" x="1618" y="3771" width="1500" height="574" rx="6"/>
<text x="1640" y="3829" class="b" font-size="54" fill="#0b2566" textLength="258" lengthAdjust="spacingAndGlyphs">Discussion</text>
<g font-size="40" fill="#000">
<text x="1640" y="3891" textLength="1447" lengthAdjust="spacingAndGlyphs">Exposure to different N and Cu levels mainly affected the <tspan class="b">nutrient</tspan></text>
<text x="1640" y="3951" textLength="1447" lengthAdjust="spacingAndGlyphs"><tspan class="b">status</tspan>, <tspan class="b">antioxidant capacity</tspan>, and <tspan class="b">physiology</tspan> of S. <tspan font-style="italic">cypria</tspan> plants. N levels</text>
<text x="1640" y="4012" textLength="1447" lengthAdjust="spacingAndGlyphs">typical to hydroponic nutrient solutions can be combined with increased</text>
<text x="1640" y="4072" textLength="1447" lengthAdjust="spacingAndGlyphs">levels of Cu, <tspan class="b">without affecting the yield</tspan> of S. <tspan font-style="italic">cypria</tspan> plants – <tspan class="b">but</tspan></text>
<text x="1640" y="4130" textLength="1447" lengthAdjust="spacingAndGlyphs"><tspan class="b">improving their antioxidant capacity</tspan>. In addition, although increased,</text>
<text x="1640" y="4190" textLength="1447" lengthAdjust="spacingAndGlyphs"><tspan class="b">leaf Cu remained at safe levels (≤28 mg/kg)</tspan>, under excess Cu. Further</text>
<text x="1640" y="4249" textLength="1447" lengthAdjust="spacingAndGlyphs">research is needed to assess the examined parameters’ impacts on</text>
<text x="1640" y="4305" textLength="1092" lengthAdjust="spacingAndGlyphs"><tspan class="b">essential oil yield</tspan>, <tspan class="b">biosynthesis</tspan> and <tspan class="b">biological activity.</tspan></text>
</g>

<!-- footer -->
<rect x="1618" y="4355" width="1493" height="89" fill="#fff"/>
<g font-size="28" font-weight="700" font-style="italic" fill="#1a1a1a">
<text x="1628" y="4390" textLength="1471" lengthAdjust="spacingAndGlyphs">Financial support has been provided by the EXCELLENCE/0421/0299 Restart Research 2016-2020 project,</text>
<text x="1628" y="4429" textLength="1416" lengthAdjust="spacingAndGlyphs">a programme supported by the European Union with co-funding by the Funding Agencies RIF – Cyprus.</text>
</g>
</svg>
</body></html>
